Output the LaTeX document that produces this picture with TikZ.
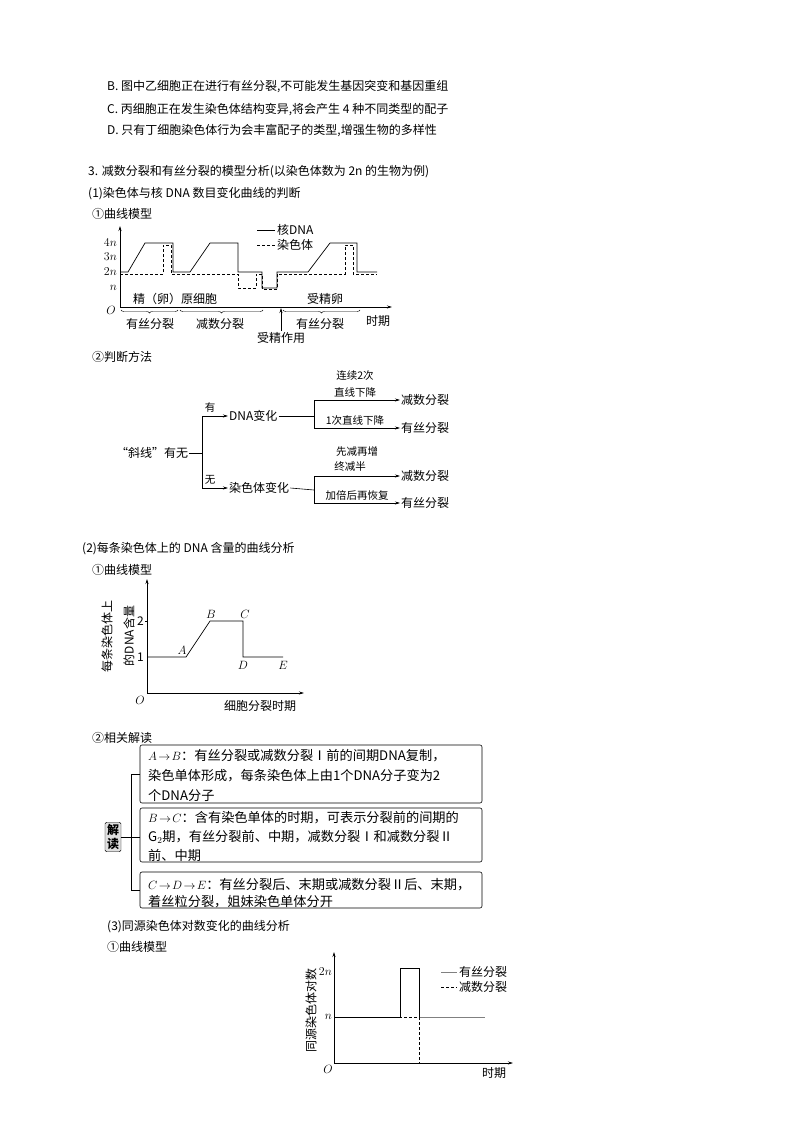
\documentclass[tikz,border=0pt]{standalone}
\usepackage{fontspec}
\setmainfont{Noto Sans CJK SC}
\usetikzlibrary{positioning,decorations.pathreplacing,arrows.meta}
\tikzset{
	txt/.style={anchor=west, inner sep=0pt, font=\fontsize{12}{14}\selectfont},
	boxtxt/.style={anchor=west, inner sep=0pt, font=\fontsize{13.2}{15}\selectfont},
	lbl/.style={inner sep=1pt, font=\fontsize{12}{14}\selectfont},
	small/.style={inner sep=1pt, font=\fontsize{10.5}{12}\selectfont},
	curve/.style={line width=0.7pt},
	dcurve/.style={line width=0.6pt, densely dashed},
	axis/.style={line width=0.7pt, -{Stealth[length=5pt,width=3pt]}},
	branch/.style={line width=0.6pt, -{Stealth[length=5pt,width=3pt]}},
	readbox/.style={draw, rounded corners=2pt, line width=0.6pt},
}
\begin{document}
\begin{tikzpicture}[x=1pt, y=-1pt]
	\useasboundingbox (0,0) rectangle (800,1132);

	% header text
	\node[txt] (l1) at (107,87) {B. 图中乙细胞正在进行有丝分裂,不可能发生基因突变和基因重组};
	\node[txt] (l2) at (107,110) {C. 丙细胞正在发生染色体结构变异,将会产生 4 种不同类型的配子};
	\node[txt] (l3) at (107,131) {D. 只有丁细胞染色体行为会丰富配子的类型,增强生物的多样性};
	\node[txt] (l4) at (88,172) {3. 减数分裂和有丝分裂的模型分析(以染色体数为 2n 的生物为例)};
	\node[txt] (l5) at (88,194) {(1)染色体与核 DNA 数目变化曲线的判断};
	\node[txt] (l6) at (92,214) {①曲线模型};

	% curve 1
	\coordinate (o1) at (120,307);
	\draw[axis] (o1) -- (120,226);
	\draw[axis] (o1) -- (392,307);
	\node[lbl, anchor=east] (o1l) at (117,310) {$O$};
	\foreach \v/\yy in {4n/243,3n/257,2n/272,n/288}
		\node[lbl, anchor=east] (t-\v) at (118,\yy) {$\v$};
	\draw[curve] (120,272) -- (128,272) -- (145,243) -- (173,243) -- (173,272) -- (190,272)
		-- (210,243) -- (238,243) -- (238,272) -- (262,272) -- (262,288) -- (277,288)
		-- (277,272) -- (308,272) -- (330,243) -- (357,243) -- (357,272) -- (377,272);
	\draw[dcurve] (120,274) -- (163,274) -- (163,245) -- (171,245) -- (171,274) -- (238,274)
		-- (238,288) -- (256,288) -- (256,274) -- (262,274) -- (262,289) -- (277,289)
		-- (277,274) -- (345,274) -- (345,245) -- (353,245) -- (353,274) -- (377,274);
	\draw[curve] (257,230) -- (275,230);
	\node[lbl, anchor=west] (lgdna) at (276,230) {核DNA};
	\draw[dcurve] (257,245) -- (275,245);
	\node[lbl, anchor=west] (lgchr) at (276,245) {染色体};
	\node[lbl] (jing) at (175,299) {精（卵）原细胞};
	\node[lbl] (shou) at (325,299) {受精卵};
	\draw[decorate, decoration={brace, mirror, amplitude=3pt}] (121,310) -- (178,310);
	\draw[decorate, decoration={brace, mirror, amplitude=3pt}] (180,310) -- (263,310);
	\draw[decorate, decoration={brace, mirror, amplitude=3pt}] (283,310) -- (360,310);
	\node[lbl] (b1) at (150,324) {有丝分裂};
	\node[lbl] (b2) at (220,324) {减数分裂};
	\node[lbl] (b3) at (320,324) {有丝分裂};
	\node[lbl] (shiqi1) at (378,321) {时期};
	\node[lbl] (sjzy) at (281,338) {受精作用};
	\draw[branch] (sjzy.north) -- (281,308);

	% decision tree
	\node[txt] (l7) at (92,357) {②判断方法};
	\node[lbl] (xx) at (152,453) {“斜线”有无};
	\node[lbl, anchor=west] (dna) at (228,416) {DNA变化};
	\node[lbl, anchor=west] (chr) at (228,488) {染色体变化};
	\draw[line width=0.6pt] (xx.east) -- (202,453);
	\draw[branch] (202,453) |- (dna.west);
	\draw[branch] (202,453) |- (chr.west);
	\node[small] (you) at (210,408) {有};
	\node[small] (wu) at (210,480) {无};
	\node[lbl, anchor=west] (r1) at (400,400) {减数分裂};
	\node[lbl, anchor=west] (r2) at (400,428) {有丝分裂};
	\node[lbl, anchor=west] (r3) at (400,476) {减数分裂};
	\node[lbl, anchor=west] (r4) at (400,503) {有丝分裂};
	\draw[line width=0.6pt] (dna.east) -- (314,416);
	\draw[branch] (314,416) |- (r1.west);
	\draw[branch] (314,416) |- (r2.west);
	\draw[line width=0.6pt] (chr.east) -- (314,490);
	\draw[branch] (314,490) |- (r3.west);
	\draw[branch] (314,490) |- (r4.west);
	\node[small] (c1) at (355,376) {连续2次};
	\node[small] (c2) at (355,392) {直线下降};
	\node[small] (c3) at (355,421) {1次直线下降};
	\node[small] (c4) at (357,452) {先减再增};
	\node[small] (c5) at (350,467) {终减半};
	\node[small] (c6) at (357,495) {加倍后再恢复};

	% curve 2
	\node[txt] (l8) at (82,549) {(2)每条染色体上的 DNA 含量的曲线分析};
	\node[txt] (l9) at (92,570) {①曲线模型};
	\coordinate (o2) at (147,693);
	\draw[axis] (o2) -- (147,579);
	\draw[axis] (o2) -- (304,693);
	\node[lbl, anchor=east] (o2l) at (146,700) {$O$};
	\node[lbl, anchor=east] (t2) at (145,621) {2};
	\node[lbl, anchor=east] (t1) at (145,657) {1};
	\draw[line width=0.4pt] (145,621) -- (147,621);
	\draw[curve] (147,657) -- (186,657) -- (210,621) -- (243,621) -- (243,657) -- (283,657);
	\node[lbl] (pa) at (182,650) {$A$};
	\node[lbl] (pb) at (211,614) {$B$};
	\node[lbl] (pc) at (245,614) {$C$};
	\node[lbl] (pd) at (243,665) {$D$};
	\node[lbl] (pe) at (283,665) {$E$};
	\node[lbl] (xl2) at (260,706) {细胞分裂时期};
	\node[lbl, rotate=90] (yl2a) at (107,636) {每条染色体上};
	\node[lbl, rotate=90] (yl2b) at (129,636) {的DNA含量};

	% reading boxes
	\node[txt] (l10) at (92,738) {②相关解读};
	\draw[readbox] (140,745) rectangle (482,803);
	\draw[readbox] (140,808) rectangle (482,862);
	\draw[readbox] (140,872) rectangle (482,908);
	\node[draw, fill=gray!25, rounded corners=1.5pt, inner sep=2pt, align=center,
		font=\fontsize{12}{14}\selectfont\bfseries] (jd) at (113,837) {解\\读};
	\draw[line width=0.6pt] (jd.east) -- (140,837);
	\draw[line width=0.6pt] (140,774) -- (131,774) -- (131,890) -- (140,890);
	\node[boxtxt] (a1) at (148,756) {$A\!\to\!B$：有丝分裂或减数分裂Ⅰ前的间期DNA复制，};
	\node[boxtxt] (a2) at (148,776) {染色单体形成，每条染色体上由1个DNA分子变为2};
	\node[boxtxt] (a3) at (148,795) {个DNA分子};
	\node[boxtxt] (b1t) at (148,818) {$B\!\to\!C$：含有染色单体的时期，可表示分裂前的间期的};
	\node[boxtxt] (b2t) at (148,837) {G$_2$期，有丝分裂前、中期，减数分裂Ⅰ和减数分裂Ⅱ};
	\node[boxtxt] (b3t) at (148,855) {前、中期};
	\node[boxtxt] (c1t) at (148,885) {$C\!\to\!D\!\to\!E$：有丝分裂后、末期或减数分裂Ⅱ后、末期，};
	\node[boxtxt] (c2t) at (148,902) {着丝粒分裂，姐妹染色单体分开};

	% curve 3
	\node[txt] (l11) at (107,927) {(3)同源染色体对数变化的曲线分析};
	\node[txt] (l12) at (107,947) {①曲线模型};
	\coordinate (o3) at (334,1063);
	\draw[axis] (o3) -- (334,952);
	\draw[axis] (o3) -- (513,1063);
	\node[lbl, anchor=east] (o3l) at (334,1069) {$O$};
	\node[lbl, anchor=east] (t3a) at (333,972) {$2n$};
	\node[lbl, anchor=east] (t3b) at (333,1017) {$n$};
	\draw[curve] (334,1017) -- (400,1017) -- (400,968) -- (419,968) -- (419,1017);
	\draw[line width=0.6pt, gray] (419,1017) -- (485,1017);
	\draw[dcurve] (334,1017) -- (419,1017) -- (419,1063);
	\draw[line width=0.6pt, gray] (441,972) -- (457,972);
	\node[lbl, anchor=west] (lg3a) at (458,972) {有丝分裂};
	\draw[dcurve] (441,987) -- (457,987);
	\node[lbl, anchor=west] (lg3b) at (458,987) {减数分裂};
	\node[lbl] (xl3) at (494,1073) {时期};
	\node[lbl, rotate=90] (yl3) at (311,1010) {同源染色体对数};
\end{tikzpicture}
\end{document}
